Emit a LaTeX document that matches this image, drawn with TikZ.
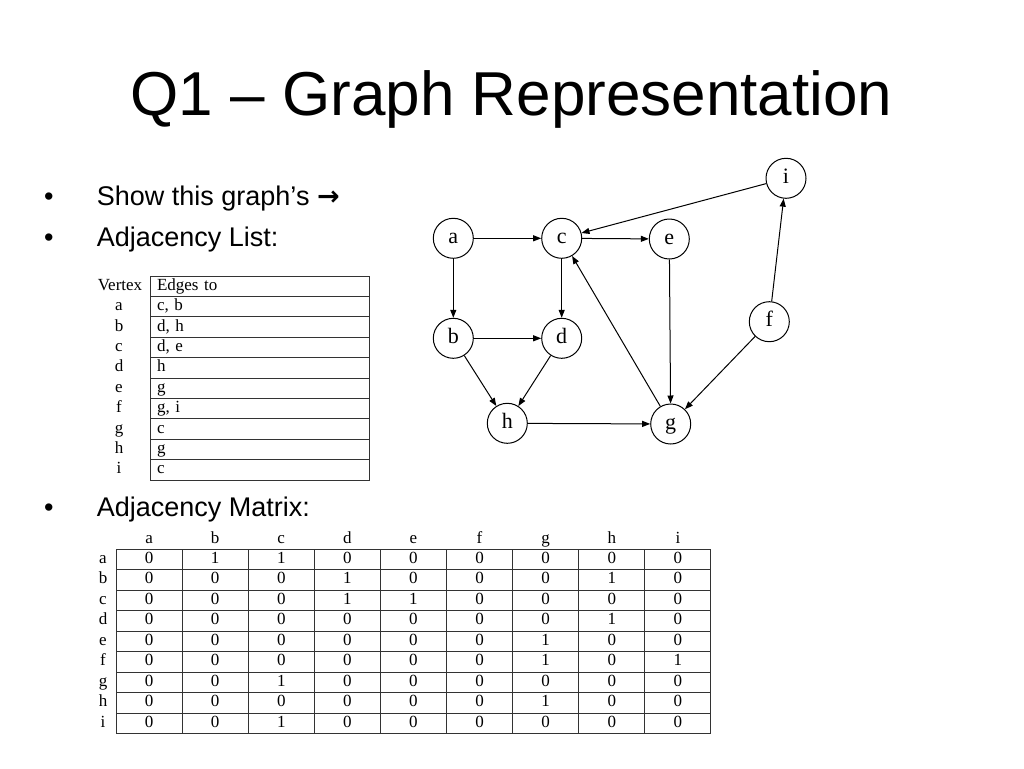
\documentclass[tikz,border=0pt]{standalone}
\usepackage{fontspec}
\setmainfont{Liberation Sans}
\newfontfamily\tabfont{Liberation Serif}
\newfontfamily\symfont{DejaVu Sans}
\usetikzlibrary{arrows.meta,calc}
\definecolor{GridClr}{rgb}{0.2,0.2,0.2}

\tikzset{
  title/.style={anchor=base,font=\fontsize{62}{62}\selectfont},
  txt/.style={anchor=base west,inner sep=0pt,font=\fontsize{27}{27}\selectfont},
  vtx/.style={circle,draw,line width=1pt,minimum size=40pt,inner sep=0pt,text height=15pt,text depth=5pt,font=\tabfont\fontsize{22}{22}\selectfont},
  link/.style={-{Triangle[length=8pt,width=6pt]},line width=1pt},
  hcell/.style={inner sep=0pt,text height=12pt,text depth=4pt,font=\tabfont\fontsize{17}{17}\selectfont},
  lcell/.style={draw=GridClr,line width=1pt,inner xsep=7pt,inner ysep=0pt,text width=205.5pt,align=left,minimum height=20.4pt,text height=12pt,text depth=4pt,font=\tabfont\fontsize{17}{17}\selectfont},
  cell/.style={draw=GridClr,line width=1pt,inner sep=0pt,minimum width=66.1pt,minimum height=20.5pt,text height=12pt,text depth=4pt,font=\tabfont\fontsize{17}{17}\selectfont}
}

\begin{document}
\begin{tikzpicture}[x=1pt,y=-1pt]
\useasboundingbox (0,0) rectangle (1024,768);

\node[title] (ttl) at (511.5,115) {Q1 – Graph Representation};

\node[txt] (b1) at (44,205.5) {•};
\node[txt] (b2) at (44,246.7) {•};
\node[txt] (b3) at (44,516) {•};
\node[txt] (t1) at (96.7,205.5) {Show this graph’s {\symfont\bfseries →}};
\node[txt] (t2) at (96.7,246.7) {Adjacency List:};
\node[txt] (t3) at (96.7,516) {Adjacency Matrix:};

\node[vtx] (a) at (453.3,238.3) {a};
\node[vtx] (c) at (561.7,238.3) {c};
\node[vtx] (e) at (669.3,239) {e};
\node[vtx] (i) at (786,178.3) {i};
\node[vtx] (b) at (453.3,338.3) {b};
\node[vtx] (d) at (561.7,338.3) {d};
\node[vtx] (f) at (769.3,321.7) {f};
\node[vtx] (h) at (507.3,423.3) {h};
\node[vtx] (g) at (670.7,424) {g};

\draw[link] (a) -- (c);
\draw[link] (a) -- (b);
\draw[link] (c) -- (e);
\draw[link] (c) -- (d);
\draw[link] (b) -- (d);
\draw[link] (b) -- (h);
\draw[link] (d) -- (h);
\draw[link] (h) -- (g);
\draw[link] (e) -- (g);
\draw[link] (g) -- (c);
\draw[link] (f) -- (g);
\draw[link] (f) -- (i);
\draw[link] (i) -- (c);

\node[hcell] (v-0) at (120,286.2) {Vertex};
\node[lcell] (l-0) at (259.75,286.2) {Edges to};
\foreach \vx/\ed [count=\k] in {a/{c, b},b/{d, h},c/{d, e},d/h,e/g,f/{g, i},g/c,h/g,i/c}{
  \node[hcell] (v-\k) at (119,{286.2+20.4*\k}) {\vx};
  \node[lcell] (l-\k) at (259.75,{286.2+20.4*\k}) {\ed};
}

\foreach \cl [count=\j] in {a,...,i}
  \node[hcell] (mh-\j) at ({149.05+66.1*(\j-1)},539) {\cl};
\foreach \rw/\vals [count=\k] in {a/{0,1,1,0,0,0,0,0,0},b/{0,0,0,1,0,0,0,1,0},c/{0,0,0,1,1,0,0,0,0},
  d/{0,0,0,0,0,0,0,1,0},e/{0,0,0,0,0,0,1,0,0},f/{0,0,0,0,0,0,1,0,1},
  g/{0,0,1,0,0,0,0,0,0},h/{0,0,0,0,0,0,1,0,0},i/{0,0,1,0,0,0,0,0,0}}{
  \node[hcell] (mr-\k) at (103,{559.25+20.5*(\k-1)}) {\rw};
  \foreach \val [count=\j] in \vals
    \node[cell] (m-\k-\j) at ({149.05+66.1*(\j-1)},{559.25+20.5*(\k-1)}) {\val};
}

\end{tikzpicture}
\end{document}
